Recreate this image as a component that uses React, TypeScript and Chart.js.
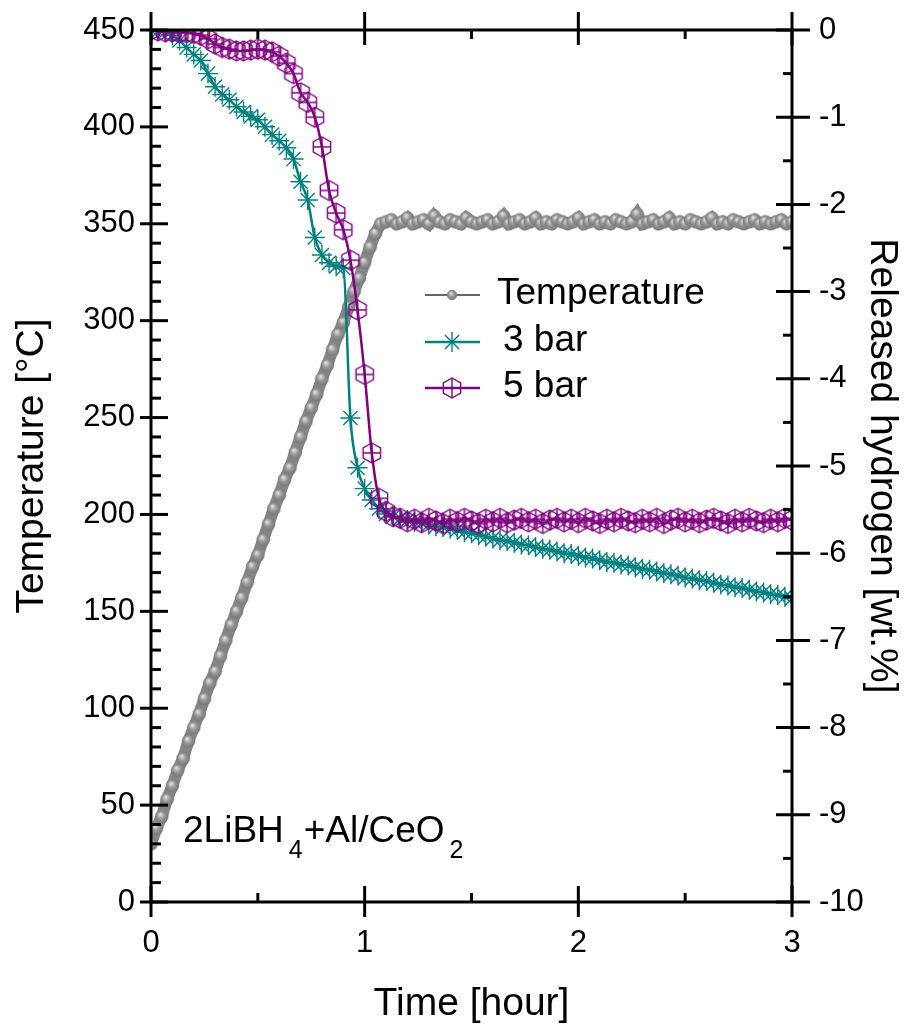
import React, { useEffect, useRef } from 'react';
import { Chart, registerables } from 'chart.js';

Chart.register(...registerables);

// ---------- data ----------
const TIME_MIN = 0;
const TIME_MAX = 3;
const TEMP_MIN = 0;
const TEMP_MAX = 450;
const H_MIN = -10;
const H_MAX = 0;

// sampling intervals of the recorded series [hour]
const TEMP_SAMPLE_H = 0.025;
const H2_SAMPLE_H = 1 / 30;

// Temperature [°C], one value every 0.025 h from t = 0
const temperature = [
  30, 38, 44, 53, 60, 68, 74, 83, 90, 97,
  105, 113, 119, 127, 135, 143, 150, 157, 165, 173,
  179, 187, 195, 203, 210, 218, 224, 232, 240, 248,
  255, 262, 270, 277, 285, 293, 299, 307, 315, 322,
  330, 338, 345,
  350, 351, 352, 350, 351, 353, 350, 351, 352, 350,
  354, 351, 350, 352, 351, 350, 353, 351, 350, 351,
  352, 350, 351, 354, 350, 351, 352, 350, 351, 353,
  350, 351, 350, 352, 351, 350, 351, 353, 350, 351,
  352, 350, 351, 350, 352, 351, 350, 351, 355, 350,
  351, 352, 350, 351, 353, 350, 351, 350, 352, 351,
  350, 351, 353, 350, 351, 350, 352, 351, 350, 351,
  352, 350, 351, 350, 351, 352, 350, 351,
];

// Released hydrogen [wt.%] at 3 bar, one value every 2 min
const bar3 = [
  0, -0.01, -0.02, -0.06, -0.12, -0.2, -0.28, -0.35, -0.5, -0.65,
  -0.74, -0.8, -0.88, -0.94, -0.99, -1.03, -1.11, -1.2, -1.27, -1.35,
  -1.48, -1.74, -1.95, -2.38, -2.58, -2.67, -2.71, -2.73, -4.45, -5.02,
  -5.26, -5.39, -5.49, -5.55,
  -5.58, -5.6, -5.62, -5.64, -5.65, -5.67, -5.69, -5.7, -5.72, -5.73,
  -5.76, -5.77, -5.79, -5.81, -5.83, -5.85, -5.86, -5.88, -5.9, -5.91,
  -5.93, -5.95, -5.96, -5.98, -6.0, -6.01, -6.03, -6.05, -6.06, -6.08,
  -6.1, -6.11, -6.13, -6.14, -6.16, -6.18, -6.19, -6.21, -6.23, -6.24,
  -6.26, -6.28, -6.29, -6.31, -6.32, -6.34, -6.36, -6.37, -6.39, -6.4,
  -6.42, -6.44, -6.45, -6.47, -6.48, -6.5, -6.52,
];

// Released hydrogen [wt.%] at 5 bar, one value every 2 min
const bar5 = [
  0, -0.01, -0.02, -0.02, -0.03, -0.03, -0.04, -0.06, -0.1, -0.16,
  -0.2, -0.22, -0.24, -0.24, -0.23, -0.22, -0.23, -0.25, -0.3, -0.38,
  -0.5, -0.72, -0.83, -1.0, -1.34, -1.84, -2.1, -2.29, -2.64, -3.21,
  -3.95, -4.85, -5.37, -5.52, -5.58,
  -5.6, -5.64, -5.61, -5.65, -5.6, -5.63, -5.66, -5.61, -5.64, -5.6,
  -5.63, -5.66, -5.61, -5.64, -5.6, -5.65, -5.62, -5.6, -5.64, -5.61,
  -5.66, -5.62, -5.6, -5.64, -5.61, -5.65, -5.6, -5.63, -5.66, -5.61,
  -5.64, -5.6, -5.63, -5.65, -5.61, -5.64, -5.6, -5.66, -5.62, -5.6,
  -5.64, -5.61, -5.65, -5.62, -5.6, -5.63, -5.66, -5.61, -5.64, -5.6,
  -5.63, -5.65, -5.61, -5.64, -5.6, -5.62,
];

const seriesNames = ['Temperature', '3 bar', '5 bar'];
const timeTickStep = 1;
const timeMinorStep = 0.5;
const tempTickStep = 50;
const tempMinorStep = 10;
const hTickStep = 1;
const hMinorStep = 0.5;

const FONT = '"Liberation Sans", Arial, Helvetica, sans-serif';
const GRAY = '#858585';
const TEAL = '#008080';
const PURPLE = '#800080';

function makeSphere(): HTMLCanvasElement {
  const c = document.createElement('canvas');
  c.width = 15;
  c.height = 15;
  const g = c.getContext('2d')!;
  const grad = g.createRadialGradient(6, 5, 0.5, 7.5, 7.5, 7.5);
  grad.addColorStop(0, '#e0e0e0');
  grad.addColorStop(0.45, '#979797');
  grad.addColorStop(1, '#727272');
  g.fillStyle = grad;
  g.beginPath();
  g.arc(7.5, 7.5, 6.8, 0, Math.PI * 2);
  g.fill();
  return c;
}

function makeHex(): HTMLCanvasElement {
  const c = document.createElement('canvas');
  c.width = 24;
  c.height = 24;
  const g = c.getContext('2d')!;
  const cx = 12, cy = 12, r = 10;
  g.strokeStyle = PURPLE;
  g.lineWidth = 1.4;
  g.beginPath();
  for (let k = 0; k < 6; k++) {
    const a = -Math.PI / 2 + (k * Math.PI) / 3;
    const px = cx + r * Math.cos(a);
    const py = cy + r * Math.sin(a);
    if (k === 0) g.moveTo(px, py);
    else g.lineTo(px, py);
  }
  g.closePath();
  g.stroke();
  const hw = r * Math.cos(Math.PI / 6);
  g.beginPath();
  g.moveTo(cx, cy - r);
  g.lineTo(cx, cy + r);
  g.moveTo(cx - hw, cy);
  g.lineTo(cx + hw, cy);
  g.stroke();
  return c;
}

function drawStar(ctx: CanvasRenderingContext2D, x: number, y: number, r: number) {
  ctx.beginPath();
  for (let k = 0; k < 4; k++) {
    const a = (k * Math.PI) / 4;
    ctx.moveTo(x - r * Math.cos(a), y - r * Math.sin(a));
    ctx.lineTo(x + r * Math.cos(a), y + r * Math.sin(a));
  }
  ctx.stroke();
}

const noEdgePadding = (s: any) => {
  s.paddingTop = 0;
  s.paddingBottom = 0;
  s.paddingLeft = 0;
  s.paddingRight = 0;
};

export default function App() {
  const ref = useRef<HTMLCanvasElement>(null);

  useEffect(() => {
    const canvas = ref.current;
    if (!canvas) return;
    const sphere = makeSphere();
    const hex = makeHex();

    const decorPlugin = {
      id: 'decor',
      afterDraw(chart: any) {
        const { ctx, chartArea, scales } = chart;
        const { left, right, top, bottom } = chartArea;
        ctx.save();
        ctx.strokeStyle = '#000';
        ctx.lineWidth = 3;
        ctx.lineCap = 'butt';
        const seg = (x1: number, y1: number, x2: number, y2: number) => {
          ctx.beginPath();
          ctx.moveTo(x1, y1);
          ctx.lineTo(x2, y2);
          ctx.stroke();
        };
        ctx.strokeRect(left, top, right - left, bottom - top);

        // left temperature axis ticks
        const nT = Math.round((TEMP_MAX - TEMP_MIN) / tempMinorStep);
        for (let k = 0; k <= nT; k++) {
          const v = TEMP_MIN + k * tempMinorStep;
          const p = scales.y.getPixelForValue(v);
          const major = Math.abs(v % tempTickStep) < 1e-9;
          if (major) seg(left - 11, p, left + 17, p);
          else seg(left, p, left + 10, p);
        }
        // right hydrogen axis ticks
        const nH = Math.round((H_MAX - H_MIN) / hMinorStep);
        for (let k = 0; k <= nH; k++) {
          const v = H_MIN + k * hMinorStep;
          const p = scales.y2.getPixelForValue(v);
          const major = k % Math.round(hTickStep / hMinorStep) === 0;
          if (major) seg(right - 16, p, right + 18, p);
          else seg(right - 9, p, right, p);
        }
        // bottom and top time ticks
        const nX = Math.round((TIME_MAX - TIME_MIN) / timeMinorStep);
        for (let k = 0; k <= nX; k++) {
          const v = TIME_MIN + k * timeMinorStep;
          const p = scales.x.getPixelForValue(v);
          const major = k % Math.round(timeTickStep / timeMinorStep) === 0;
          if (major) {
            seg(p, bottom + 15, p, bottom - 16);
            seg(p, top - 18, p, top + 15);
          } else {
            seg(p, bottom, p, bottom - 9);
            seg(p, top, p, top + 9);
          }
        }

        // legend
        const lx1 = 425, lx2 = 480, mx = 452;
        const rows = [295, 342, 388];
        ctx.font = `37px ${FONT}`;
        ctx.fillStyle = '#000';
        ctx.textBaseline = 'alphabetic';
        ctx.textAlign = 'left';
        // Temperature
        ctx.strokeStyle = '#333';
        ctx.lineWidth = 1.5;
        seg(lx1, rows[0], lx2, rows[0]);
        const sw = sphere.width * 0.75;
        ctx.drawImage(sphere, mx - sw / 2, rows[0] - sw / 2, sw, sw);
        ctx.fillText(seriesNames[0], 497, rows[0] + 9);
        // 3 bar
        ctx.strokeStyle = TEAL;
        ctx.lineWidth = 2.5;
        seg(lx1, rows[1], lx2, rows[1]);
        ctx.lineWidth = 1.4;
        drawStar(ctx, mx, rows[1], 10);
        ctx.fillText(seriesNames[1], 503, rows[1] + 9);
        // 5 bar
        ctx.strokeStyle = PURPLE;
        ctx.lineWidth = 2.5;
        seg(lx1, rows[2], lx2, rows[2]);
        ctx.drawImage(hex, mx - hex.width / 2, rows[2] - hex.height / 2);
        ctx.fillText(seriesNames[2], 503, rows[2] + 9);

        // annotation 2LiBH4+Al/CeO2
        let ax = 183;
        const base = 842;
        const big = `37px ${FONT}`;
        const small = `25px ${FONT}`;
        const parts: [string, boolean][] = [
          ['2LiBH', false],
          ['4', true],
          ['+Al/CeO', false],
          ['2', true],
        ];
        for (const [t, sub] of parts) {
          ctx.font = sub ? small : big;
          if (sub) ax += 5;
          ctx.fillText(t, ax, sub ? base + 16 : base);
          ax += ctx.measureText(t).width;
          if (sub) ax += 1;
        }
        ctx.restore();
      },
    };

    const tickFont = { size: 31, family: FONT };
    const titleFont = { size: 39, family: FONT };

    const chart = new Chart(canvas, {
      type: 'line',
      data: {
        datasets: [
          {
            label: seriesNames[2],
            data: bar5.map((v, i) => ({ x: i * H2_SAMPLE_H, y: v })),
            yAxisID: 'y2',
            borderColor: PURPLE,
            borderWidth: 2.5,
            pointStyle: hex as any,
            pointRadius: 10,
            cubicInterpolationMode: 'monotone',
            order: 1,
          },
          {
            label: seriesNames[1],
            data: bar3.map((v, i) => ({ x: i * H2_SAMPLE_H, y: v })),
            yAxisID: 'y2',
            borderColor: TEAL,
            borderWidth: 2.5,
            pointStyle: 'star',
            pointRadius: 10,
            pointBorderColor: TEAL,
            pointBorderWidth: 1.4,
            pointBackgroundColor: 'rgba(0,0,0,0)',
            cubicInterpolationMode: 'monotone',
            order: 2,
          },
          {
            label: seriesNames[0],
            data: temperature.map((v, i) => ({ x: i * TEMP_SAMPLE_H, y: v })),
            yAxisID: 'y',
            borderColor: GRAY,
            borderWidth: 12,
            pointStyle: sphere as any,
            pointRadius: 7,
            tension: 0,
            order: 3,
          },
        ],
      },
      options: {
        animation: false,
        responsive: false,
        devicePixelRatio: 1,
        events: [],
        layout: { padding: { top: 30, left: 0, right: 0, bottom: 0 } },
        plugins: {
          legend: { display: false },
          tooltip: { enabled: false },
        },
        scales: {
          x: {
            type: 'linear',
            position: 'bottom',
            min: TIME_MIN,
            max: TIME_MAX,
            grid: { display: false, drawTicks: false },
            border: { display: false },
            ticks: {
              stepSize: timeTickStep,
              font: tickFont,
              color: '#000',
              padding: 23,
              maxRotation: 0,
              autoSkip: false,
              callback: (v: any) => String(v),
            },
            title: {
              display: true,
              text: 'Time [hour]',
              font: titleFont,
              color: '#000',
              padding: { top: 0, bottom: 0 },
            },
            afterFit: (s: any) => {
              s.height = 126;
              noEdgePadding(s);
            },
          },
          y: {
            type: 'linear',
            position: 'left',
            min: TEMP_MIN,
            max: TEMP_MAX,
            grid: { display: false, drawTicks: false },
            border: { display: false },
            ticks: {
              stepSize: tempTickStep,
              font: tickFont,
              color: '#000',
              padding: 16,
              autoSkip: false,
              callback: (v: any) => String(v),
            },
            title: {
              display: true,
              text: 'Temperature [°C]',
              font: titleFont,
              color: '#000',
              padding: { top: 9, bottom: 0 },
            },
            afterFit: (s: any) => {
              s.width = 151;
              noEdgePadding(s);
            },
          },
          y2: {
            type: 'linear',
            position: 'right',
            min: H_MIN,
            max: H_MAX,
            grid: { display: false, drawTicks: false },
            border: { display: false },
            ticks: {
              stepSize: hTickStep,
              font: tickFont,
              color: '#000',
              padding: 27,
              autoSkip: false,
              callback: (v: any) => String(v),
            },
            title: {
              display: true,
              text: 'Released hydrogen [wt.%]',
              font: titleFont,
              color: '#000',
              padding: { top: 4, bottom: 0 },
            },
            afterFit: (s: any) => {
              s.width = 117;
              noEdgePadding(s);
            },
          },
        },
      },
      plugins: [decorPlugin],
    } as any);

    return () => chart.destroy();
  }, []);

  return (
    <div style={{ position: 'absolute', left: 0, top: 0, width: 909, height: 1028, background: '#fff' }}>
      <canvas ref={ref} width={909} height={1028} style={{ display: 'block', width: 909, height: 1028 }} />
    </div>
  );
}
